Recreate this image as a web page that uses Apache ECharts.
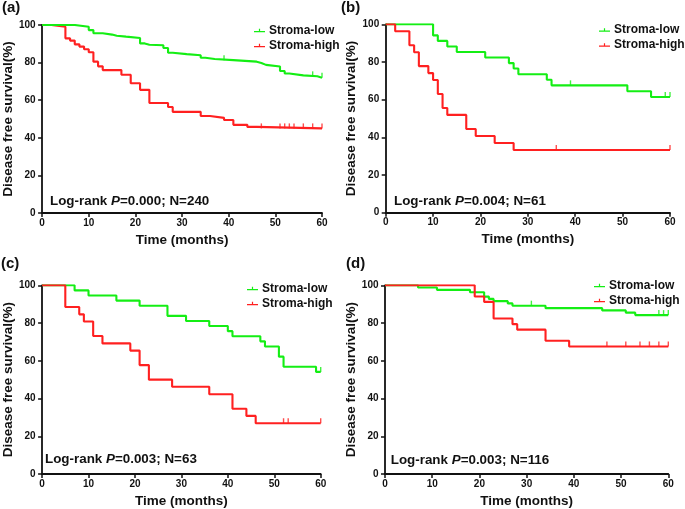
<!DOCTYPE html>
<html>
<head>
<meta charset="utf-8">
<script src="https://cdn.jsdelivr.net/npm/echarts@6/dist/echarts.min.js"></script>
<style>html,body{margin:0;padding:0;background:#fff;}#c{width:685px;height:509px;}</style>
</head>
<body>
<div id="c"></div>
<script>
// ---------- DATA ----------
const panelLabels = ['(a)', '(b)', '(c)', '(d)'];
const pValues = ['0.000', '0.004', '0.003', '0.003'];
const nValues = ['240', '61', '63', '116'];
const xTicks = [0, 10, 20, 30, 40, 50, 60];
const yTicks = [0, 20, 40, 60, 80, 100];
const seriesNames = ['Stroma-low', 'Stroma-high'];

// Panel (a)
const aLowT  = [0, 7, 10, 11, 13, 15, 16, 18, 21, 22, 23, 26, 27, 28, 31, 34, 35, 37, 41, 46, 47, 48, 51, 52, 53, 56, 59, 60];
const aLowS  = [100, 99.1, 97.3, 95.6, 94.9, 94.3, 93.8, 93.1, 90.2, 89.5, 89.2, 87.8, 85.2, 84.5, 83.9, 82.6, 81.9, 81.3, 80.5, 79.8, 78.8, 77.9, 75.5, 74.2, 73.2, 72.7, 72.0, 72.0];
const aLowC  = [39, 58, 60];
const aHighT = [0, 2, 5, 6, 7, 8, 9, 10, 11, 12, 13, 17, 19, 21, 23, 27, 28, 34, 36, 39, 41, 44, 46, 60];
const aHighS = [100, 99.1, 92.9, 91.7, 89.7, 88.5, 87.1, 85.5, 80.5, 78.0, 76.0, 73.5, 69.0, 65.5, 58.5, 56.4, 53.8, 51.6, 50.6, 49.5, 46.9, 45.8, 45.0, 45.0];
const aHighC = [47, 51, 52, 53, 54, 56, 58, 60];

// Panel (b)
const bLowT  = [0, 10, 11, 13, 15, 21, 26, 27, 28, 34, 35, 51, 56, 60];
const bLowS  = [100, 94.1, 91.2, 88.2, 85.3, 82.4, 79.4, 76.5, 73.5, 70.6, 67.6, 64.5, 61.4, 61.4];
const bLowC  = [39, 59, 60];
const bHighT = [0, 2, 5, 6, 7, 9, 10, 11, 12, 13, 17, 19, 23, 27, 60];
const bHighS = [100, 96.3, 88.9, 85.2, 77.8, 74.1, 70.4, 63.0, 55.6, 51.9, 44.4, 40.7, 37.0, 33.3, 33.3];
const bHighC = [36, 60];

// Panel (c)
const cLowT  = [0, 7, 10, 16, 21, 27, 31, 36, 40, 41, 47, 48, 51, 52, 59, 60];
const cLowS  = [100, 97.3, 94.6, 91.9, 89.2, 83.8, 81.1, 78.4, 75.7, 73.0, 70.3, 67.6, 62.2, 56.8, 54.1, 54.1];
const cLowC  = [60];
const cHighT = [0, 5, 8, 9, 11, 13, 19, 21, 23, 28, 36, 41, 44, 46, 60];
const cHighS = [100, 88.5, 84.6, 80.8, 73.1, 69.2, 65.4, 57.7, 50.0, 46.2, 42.3, 34.6, 30.8, 26.9, 26.9];
const cHighC = [52, 53, 60];

// Panel (d)
const dLowT  = [0, 7, 11, 18, 21, 22, 23, 26, 27, 34, 46, 51, 53, 60];
const dLowS  = [100, 98.8, 97.6, 96.3, 94.0, 92.8, 91.6, 90.4, 89.2, 87.9, 86.7, 85.5, 84.2, 84.2];
const dLowC  = [31, 58, 59, 60];
const dHighT = [0, 19, 21, 23, 27, 28, 34, 39, 60];
const dHighS = [100, 94.1, 91.2, 82.4, 79.4, 76.5, 70.6, 67.6, 67.6];
const dHighC = [47, 51, 54, 56, 58, 60];

// ---------- LAYOUT / STYLE ----------
const FONT = '"Liberation Sans", Arial, sans-serif';
const GREEN = '#14ee14';
const RED = '#ff2020';
const grids = [
  {left: 39.5, top: 25, width: 282.5, height: 188},
  {left: 385.7, top: 24.3, width: 284.3, height: 188.4},
  {left: 37.3, top: 285.3, width: 283.4, height: 188.7},
  {left: 385, top: 285.3, width: 283.3, height: 188.7}
];
const yNameGap = [23, 24, 23.5, 25];
const legendPos = [
  {left: 254, top: 24.5},
  {left: 599, top: 24},
  {left: 247, top: 282.5},
  {left: 594, top: 279.5}
];
const labelPos = [[2, 0], [341, 0], [1, 256.5], [346, 256]];
const logrankPos = [[50, 201], [394, 201], [45, 459], [390.7, 460]];
const highOnTop = [false, true, true, true];
const colors = [GREEN, RED];

const panels = [
  {lowT: aLowT, lowS: aLowS, lowC: aLowC, highT: aHighT, highS: aHighS, highC: aHighC},
  {lowT: bLowT, lowS: bLowS, lowC: bLowC, highT: bHighT, highS: bHighS, highC: bHighC},
  {lowT: cLowT, lowS: cLowS, lowC: cLowC, highT: cHighT, highS: cHighS, highC: cHighC},
  {lowT: dLowT, lowS: dLowS, lowC: dLowC, highT: dHighT, highS: dHighS, highC: dHighC}
];

function pairs(ts, ss) { return ts.map((t, i) => [t, ss[i]]); }
function stepValue(ts, ss, t) {
  let v = ss[0];
  for (let i = 0; i < ts.length; i++) { if (ts[i] <= t) v = ss[i]; }
  return v;
}
function censors(ts, ss, cs) { return cs.map(t => [t, stepValue(ts, ss, t)]); }

const xAxis = [], yAxis = [], series = [], legend = [], graphic = [];
const axisLine = {show: true, lineStyle: {color: '#111', width: 1.8}};
const axisTick = {show: true, length: 4, lineStyle: {color: '#111', width: 1.5}};

panels.forEach((p, i) => {
  const lowName = seriesNames[0] + '#' + i;
  const highName = seriesNames[1] + '#' + i;
  xAxis.push({
    type: 'value', gridIndex: i, min: 0, max: 60, interval: 10,
    axisLine, axisTick, splitLine: {show: false},
    axisLabel: {color: '#111', fontFamily: FONT, fontWeight: 'bold', fontSize: 10, margin: 5},
    name: 'Time (months)', nameLocation: 'middle', nameGap: 20,
    nameTextStyle: {color: '#111', fontFamily: FONT, fontWeight: 'bold', fontSize: 13.5}
  });
  yAxis.push({
    type: 'value', gridIndex: i, min: 0, max: 100, interval: 20,
    axisLine, axisTick, splitLine: {show: false},
    axisLabel: {color: '#111', fontFamily: FONT, fontWeight: 'bold', fontSize: 10, margin: 6.5},
    name: 'Disease free survival(%)', nameLocation: 'middle', nameGap: yNameGap[i], nameRotate: 90,
    nameTextStyle: {color: '#111', fontFamily: FONT, fontWeight: 'bold', fontSize: 13.5}
  });
  const zLow = highOnTop[i] ? 2 : 3;
  const zHigh = highOnTop[i] ? 3 : 2;
  series.push({
    name: lowName, type: 'line', step: 'end', xAxisIndex: i, yAxisIndex: i,
    data: pairs(p.lowT, p.lowS), showSymbol: false, symbol: 'none', z: zLow,
    lineStyle: {color: GREEN, width: 2.1}, itemStyle: {color: GREEN}
  });
  series.push({
    name: highName, type: 'line', step: 'end', xAxisIndex: i, yAxisIndex: i,
    data: pairs(p.highT, p.highS), showSymbol: false, symbol: 'none', z: zHigh,
    lineStyle: {color: RED, width: 2.1}, itemStyle: {color: RED}
  });
  series.push({
    name: 'censored-low#' + i, type: 'scatter', xAxisIndex: i, yAxisIndex: i,
    data: censors(p.lowT, p.lowS, p.lowC), symbol: 'rect', symbolSize: [1.4, 5], symbolOffset: [0, -2.5],
    itemStyle: {color: GREEN}, z: 4, silent: true
  });
  series.push({
    name: 'censored-high#' + i, type: 'scatter', xAxisIndex: i, yAxisIndex: i,
    data: censors(p.highT, p.highS, p.highC), symbol: 'rect', symbolSize: [1.4, 5], symbolOffset: [0, -2.5],
    itemStyle: {color: RED}, z: 4, silent: true
  });
  legend.push({
    orient: 'vertical', left: legendPos[i].left, top: legendPos[i].top, padding: 0,
    itemWidth: 11, itemHeight: 7, itemGap: 3, selectedMode: false,
    formatter: name => name.split('#')[0],
    textStyle: {color: '#111', fontFamily: FONT, fontWeight: 'bold', fontSize: 12, padding: [0, 0, 0, -1]},
    data: [lowName, highName].map((n, k) => ({
      name: n, icon: 'path://M0,4.6h22v2.4h-22z M9.8,0h2.4v5h-2.4z',
      itemStyle: {color: colors[k], borderWidth: 0, opacity: 1}
    }))
  });
  graphic.push({
    type: 'text', left: labelPos[i][0], top: labelPos[i][1],
    style: {text: panelLabels[i], fill: '#111', font: 'bold 15px ' + FONT}
  });
  graphic.push({
    type: 'text', x: logrankPos[i][0], y: logrankPos[i][1],
    style: {
      text: '{a|Log-rank }{b|P}{a|=' + pValues[i] + '; N=' + nValues[i] + '}',
      verticalAlign: 'middle',
      rich: {
        a: {fontFamily: FONT, fontWeight: 'bold', fontSize: 13.4, fill: '#111', color: '#111'},
        b: {fontFamily: FONT, fontWeight: 'bold', fontStyle: 'italic', fontSize: 13.4, fill: '#111', color: '#111'}
      }
    }
  });
});

const chart = echarts.init(document.getElementById('c'), null, {renderer: 'canvas'});
chart.setOption({
  backgroundColor: '#fff',
  animation: false,
  grid: grids.map(g => Object.assign({containLabel: false}, g)),
  xAxis, yAxis, series, legend, graphic
});
</script>
</body>
</html>
